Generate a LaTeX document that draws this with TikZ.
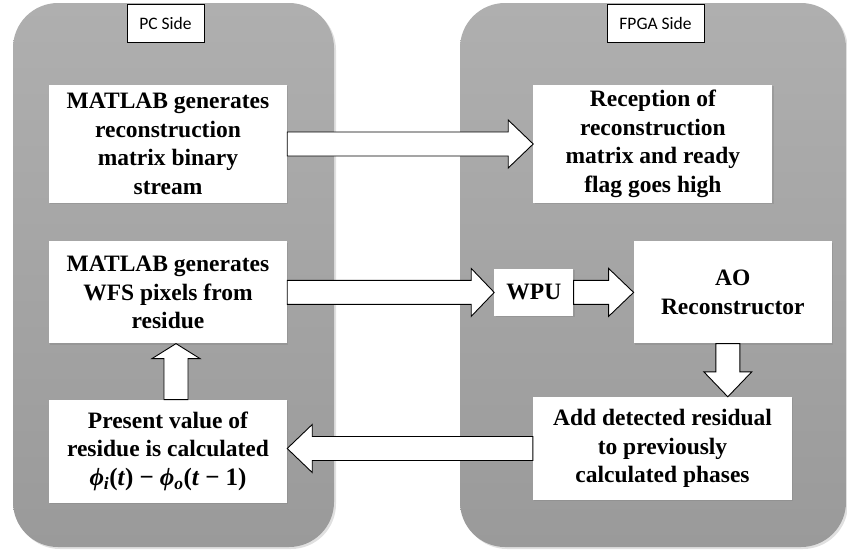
\documentclass[tikz,border=0pt]{standalone}
\usepackage{fontspec}
\setmainfont{Liberation Serif}
\newfontfamily\sidefont{Carlito}
\usepackage{tikz}
\usetikzlibrary{positioning, calc, shadows}
\definecolor{paneltop}{HTML}{AFAFAF}
\definecolor{panelbottom}{HTML}{9A9A9A}
\newcommand{\phaseres}{{\fontsize{25}{28.5}\selectfont\textit{ϕ}\textsubscript{\textit{i}}(\textit{t})\hspace{6pt}−\hspace{6pt}\textit{ϕ}\textsubscript{\textit{o}}(\textit{t}\hspace{6pt}−\hspace{6pt}1)}}
\tikzset{
    block/.style={
        fill = white,
        inner sep = 0pt,
        align = center,
        font = \bfseries\fontsize{23.5}{28.5}\selectfont,
        drop shadow = {shadow xshift=1.2pt, shadow yshift=-1.2pt, opacity=0.35}
    },
    side/.style={
        draw, fill = white, line width = 0.9pt,
        minimum height = 38pt,
        font = \sidefont\fontsize{17.5}{20}\selectfont
    },
    panel/.style = {rounded corners = 45pt, top color = paneltop, bottom color = panelbottom},
    panelshadow/.style = {rounded corners = 45pt, fill = black, opacity = 0.12},
    fat/.style = {draw, fill = white, line width = 0.9pt, line join = miter}
}
% wide hollow arrow from #2 to #3, #1 is the head length
\newcommand{\fatarrow}[3][25pt]{%
    \coordinate (head) at ($(#3)!#1!(#2)$);
    \draw[fat] ($(#2)!12pt!90:(#3)$) -- ($(head)!12pt!90:(#3)$) -- ($(head)!24pt!90:(#3)$) -- (#3)
        -- ($(head)!24pt!-90:(#3)$) -- ($(head)!12pt!-90:(#3)$) -- ($(#2)!12pt!-90:(#3)$) -- cycle;
}

\begin{document}
\begin{tikzpicture}[x=1pt, y=-1pt]
    \useasboundingbox (0,0) rectangle (847,552);

    % Sides
    \fill[panelshadow] (15,5) rectangle (336,549);
    \fill[panelshadow] (462,5) rectangle (848,549);
    \shade[panel] (13,3) rectangle (334,547);
    \shade[panel] (460,3) rectangle (846,547);
    \node[side, minimum width = 77pt] (pcside) at (165.5,23) {PC Side};
    \node[side, minimum width = 97pt] (fpgaside) at (655.5,23) {FPGA Side};

    % Blocks
    \node[block, minimum width = 238pt, minimum height = 118pt] (matgen) at (168,144)
        {MATLAB generates\\reconstruction\\matrix binary\\stream};
    \node[block, minimum width = 239pt, minimum height = 118pt, right = 246pt of matgen] (recep)
        {Reception of\\reconstruction\\matrix and ready\\flag goes high};
    \node[block, minimum width = 238pt, minimum height = 102pt, below = 38pt of matgen] (wfsgen)
        {MATLAB generates\\WFS pixels from\\residue};
    \node[block, minimum width = 79pt, minimum height = 47pt, right = 207pt of wfsgen] (wpu) {WPU};
    \node[block, minimum width = 198pt, minimum height = 102pt, right = 60pt of wpu] (aorec)
        {AO\\Reconstructor};
    \node[block, minimum width = 238pt, minimum height = 103pt, below = 56pt of wfsgen] (resid)
        {Present value of\\residue is calculated\\\phaseres};
    \node[block, minimum width = 259pt, minimum height = 103pt] (addres) at (662.5,448.5)
        {Add detected residual\\to previously\\calculated phases};

    % Arrows
    \coordinate (aoout) at ([xshift=-5pt]aorec.south);
    \coordinate (addin) at (aoout |- addres.north);
    \coordinate (residin) at (addres.west -| resid.east);
    \coordinate (residout) at ([xshift=8pt]resid.north);
    \coordinate (wfsin) at (residout |- wfsgen.south);

    \fatarrow{matgen.east}{recep.west}
    \fatarrow[23pt]{wfsgen.east}{wpu.west}
    \fatarrow{wpu.east}{aorec.west}
    \fatarrow{aoout}{addin}
    \fatarrow{addres.west}{residin}
    \fatarrow[15pt]{residout}{wfsin}

\end{tikzpicture}
\end{document}
